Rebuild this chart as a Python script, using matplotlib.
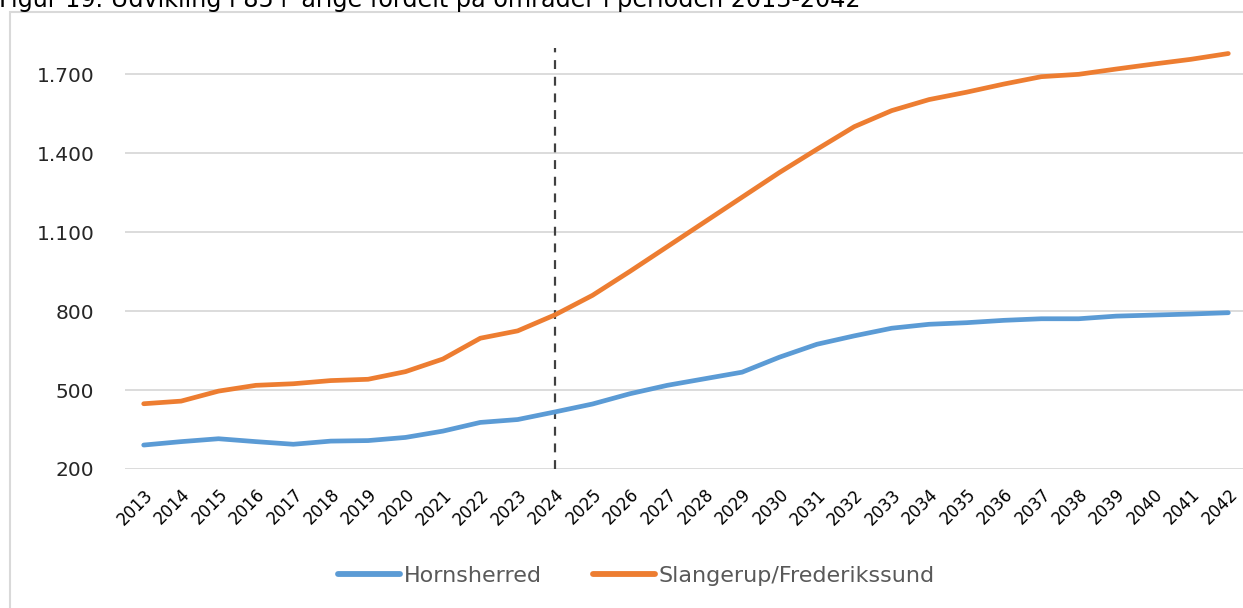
import numpy as np
import matplotlib
matplotlib.use("Agg")
import matplotlib.pyplot as plt
from matplotlib.patches import Rectangle

# data
years = [str(y) for y in range(2013, 2043)]
hornsherred = [291, 304, 315, 304, 294, 306, 308, 320, 344, 377, 388, 417,
               447, 486, 518, 543, 568, 625, 674, 706, 735, 750, 756, 765,
               771, 771, 781, 785, 789, 794]
slangerup = [448, 458, 496, 518, 524, 536, 541, 570, 618, 697, 725, 786,
             860, 951, 1045, 1139, 1233, 1327, 1415, 1501, 1562, 1604, 1632, 1663,
             1691, 1700, 1720, 1739, 1757, 1779]
yticks = [200, 500, 800, 1100, 1400, 1700]
ytick_labels = ["200", "500", "800", "1.100", "1.400", "1.700"]
split_year = "2024"

fig = plt.figure(figsize=(12.43, 6.08), dpi=100)

# outer chart frame
fig.patches.append(Rectangle((10 / 1243, -0.1), 1.1, (608 - 12) / 608 + 0.1,
                             transform=fig.transFigure, fill=False,
                             edgecolor="#d9d9d9", lw=1.5))

# title sits partly above the top edge, as in the source image
fig.text(-0.001, 1 - 7 / 608, "Figur 19. Udvikling i 85+ årige fordelt på områder i perioden 2013-2042",
         fontsize=17.2, va="baseline", ha="left", color="#000000")

ax = fig.add_axes([125 / 1243, (608 - 469) / 608, 1122 / 1243, 421 / 608])
x = np.arange(len(years))

for yv in yticks:
    ax.axhline(yv, color="#d9d9d9", lw=1.3, zorder=0)

ax.plot(x, hornsherred, color="#5B9BD5", lw=3.4, solid_capstyle="round", label="Hornsherred")
ax.plot(x, slangerup, color="#ED7D31", lw=3.4, solid_capstyle="round", label="Slangerup/Frederikssund")

xs = years.index(split_year)
ax.plot([xs, xs], [200, 1810], color="#404040", lw=1.6, ls=(0, (4, 3.5)), zorder=1)

ax.set_xlim(-0.5, len(years) - 0.5)
ax.set_ylim(200, 1800)
ax.set_yticks(yticks)
ax.set_yticklabels(ytick_labels, fontsize=14.5, color="#262626")
ax.set_xticks(x)
ax.set_xticklabels(years, rotation=45, ha="right", rotation_mode="anchor",
                   fontsize=12, color="#000000")
ax.tick_params(axis="both", length=0)
ax.tick_params(axis="y", pad=22)
ax.tick_params(axis="x", pad=12)
for s in ax.spines.values():
    s.set_visible(False)
ax.patch.set_alpha(0)

leg = fig.legend(loc="center", bbox_to_anchor=(0.512, (608 - 576) / 608), ncol=2,
                 frameon=False, fontsize=16, handlelength=2.8, handletextpad=0.15,
                 columnspacing=2.3)
for line in leg.get_lines():
    line.set_linewidth(4.2)
for t in leg.get_texts():
    t.set_color("#595959")

fig.savefig("out.png", dpi=100)
